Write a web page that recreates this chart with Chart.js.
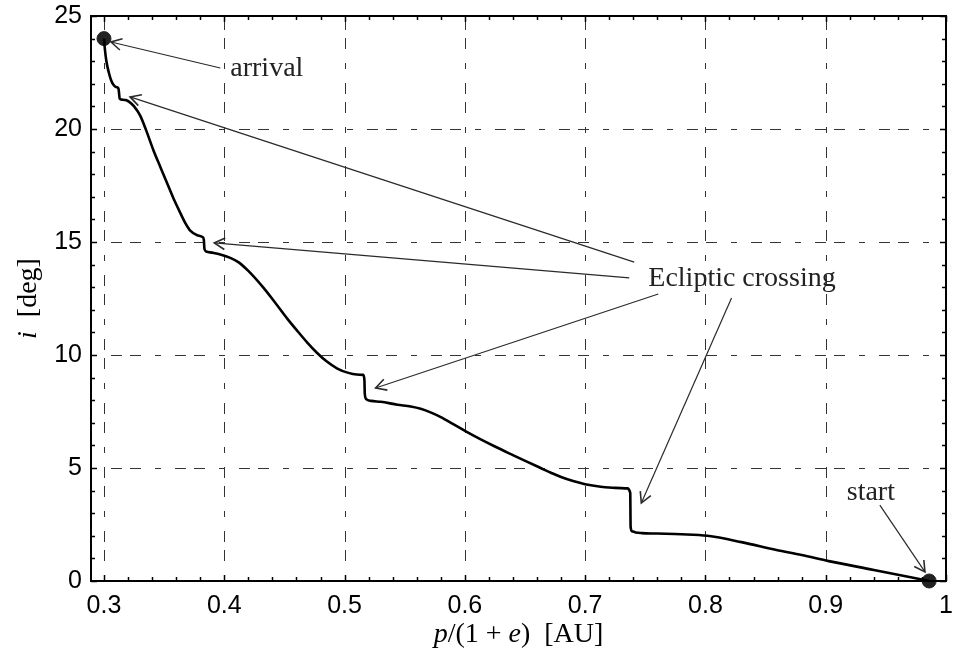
<!DOCTYPE html>
<html>
<head>
<meta charset="utf-8">
<script src="https://cdn.jsdelivr.net/npm/chart.js@4.4.1/dist/chart.umd.min.js"></script>
<style>
  html, body { margin: 0; padding: 0; background: #fff; }
  #wrap { width: 954px; height: 663px; }
</style>
</head>
<body>
<div id="wrap"><canvas id="chart"></canvas></div>
<script>
// semi-latus rectum over (1+e), AU
const pValues = [0.3, 0.3008, 0.302, 0.304, 0.306, 0.308, 0.3105, 0.312, 0.3125, 0.313, 0.315, 0.318, 0.321, 0.325,
  0.33, 0.335, 0.341, 0.347, 0.3525, 0.358, 0.3633, 0.368, 0.3717, 0.3775, 0.382, 0.383, 0.3835, 0.385, 0.39, 0.3967,
  0.405, 0.412, 0.42, 0.4325, 0.4425, 0.4525, 0.461, 0.469, 0.477, 0.485, 0.494, 0.5025, 0.51, 0.5155, 0.5165, 0.5168,
  0.518, 0.522, 0.53, 0.544, 0.555, 0.5633, 0.572, 0.58, 0.59, 0.6008, 0.612, 0.625, 0.6408, 0.652, 0.663, 0.672,
  0.68, 0.69, 0.70, 0.713, 0.725, 0.735,
  0.7375, 0.7378, 0.739, 0.742, 0.747, 0.76, 0.78, 0.8017, 0.83, 0.859, 0.88, 0.9025, 0.94, 0.986];
// inclination, deg
const iValues = [24.0, 23.5, 23.0, 22.5, 22.15, 21.95, 21.85, 21.8, 21.6, 21.35, 21.3, 21.28, 21.2, 21.0,
  20.6, 19.95, 19.07, 18.3, 17.6, 16.9, 16.3, 15.8, 15.5, 15.3, 15.22, 15.1, 14.7, 14.58, 14.53, 14.45,
  14.3, 14.1, 13.72, 12.98, 12.3, 11.6, 11.05, 10.55, 10.1, 9.72, 9.4, 9.22, 9.14, 9.12, 8.9, 8.3,
  8.05, 7.97, 7.93, 7.8, 7.72, 7.62, 7.45, 7.25, 6.95, 6.62, 6.3, 5.95, 5.55, 5.27, 5.0, 4.78,
  4.6, 4.42, 4.28, 4.17, 4.12, 4.1,
  3.9, 2.4, 2.2, 2.15, 2.12, 2.1, 2.07, 2.0, 1.72, 1.37, 1.15, 0.88, 0.49, 0.0];

// arrival / start points
const markerP = [0.3, 0.986];
const markerI = [24.0, 0.0];

const xTicks = [0.3, 0.4, 0.5, 0.6, 0.7, 0.8, 0.9, 1.0];
const yTicks = [0, 5, 10, 15, 20, 25];
const xRange = [0.2892, 1.0];
const yRange = [0, 25];

// annotations (data coords)
const noteText = ['arrival', 'Ecliptic crossing', 'start'];
const noteAt = [[0.405, 22.35], [0.7525, 13.05], [0.9175, 3.58]];
const arrowFrom = [[0.3967, 22.70], [0.7408, 14.11], [0.7367, 13.41], [0.7608, 12.70], [0.8217, 12.52], [0.945, 3.36]];
const arrowTo = [[0.3058, 23.85], [0.3217, 21.42], [0.3917, 14.96], [0.5258, 8.54], [0.7467, 3.45], [0.9825, 0.40]];

const serif = '"Liberation Serif", "DejaVu Serif", serif';

function seg(ctx, x1, y1, x2, y2) {
  ctx.beginPath();
  ctx.moveTo(x1, y1);
  ctx.lineTo(x2, y2);
  ctx.stroke();
}

// draw text made of italic / upright pieces, centered at cx
function mixedText(ctx, parts, cx, baseY, size) {
  let total = 0;
  parts.forEach(p => {
    ctx.font = (p[1] ? 'italic ' : '') + size + 'px ' + serif;
    total += ctx.measureText(p[0]).width;
  });
  let x = cx - total / 2;
  parts.forEach(p => {
    ctx.font = (p[1] ? 'italic ' : '') + size + 'px ' + serif;
    ctx.fillText(p[0], x, baseY);
    x += ctx.measureText(p[0]).width;
  });
}

const framePlugin = {
  id: 'frame',
  beforeDatasetsDraw(chart) {
    const { ctx, chartArea: a, scales: { x, y } } = chart;
    ctx.save();
    ctx.strokeStyle = '#333';
    ctx.lineWidth = 1;
    ctx.setLineDash([6, 14, 11, 8, 11, 14]);
    xTicks.forEach(v => {
      if (v <= x.min || v >= x.max) return;
      const px = Math.round(x.getPixelForValue(v)) + 0.5;
      seg(ctx, px, a.bottom, px, a.top);
    });
    yTicks.forEach(v => {
      if (v <= y.min || v >= y.max) return;
      const py = Math.round(y.getPixelForValue(v)) + 0.5;
      seg(ctx, a.left, py, a.right, py);
    });
    ctx.restore();
  },
  afterDatasetsDraw(chart) {
    const { ctx, chartArea: a, scales: { x, y } } = chart;
    ctx.save();
    ctx.strokeStyle = '#000';
    ctx.lineWidth = 1.5;
    // minor + major ticks, inward, on all four sides
    for (let k = 0; k <= 35; k++) {
      const v = 0.3 + k * 0.02;
      if (v > x.max + 1e-9) break;
      const px = Math.round(x.getPixelForValue(v)) + 0.5;
      const len = (k % 5 === 0) ? 6 : 4;
      seg(ctx, px, a.bottom, px, a.bottom - len);
      seg(ctx, px, a.top, px, a.top + len);
    }
    for (let v = 0; v <= 25; v++) {
      const py = Math.round(y.getPixelForValue(v)) + 0.5;
      const len = (v % 5 === 0) ? 6 : 4;
      seg(ctx, a.left, py, a.left + len, py);
      seg(ctx, a.right, py, a.right - len, py);
    }
    ctx.lineWidth = 2;
    ctx.strokeRect(a.left, a.top, a.right - a.left, a.bottom - a.top);

    // annotation arrows
    ctx.strokeStyle = '#2a2a2a';
    arrowFrom.forEach((f, k) => {
      const x1 = x.getPixelForValue(f[0]), y1 = y.getPixelForValue(f[1]);
      const x2 = x.getPixelForValue(arrowTo[k][0]), y2 = y.getPixelForValue(arrowTo[k][1]);
      ctx.lineWidth = 1.2;
      seg(ctx, x1, y1, x2, y2);
      const ang = Math.atan2(y1 - y2, x1 - x2);
      const L = 12, w = 0.5;
      ctx.beginPath();
      ctx.moveTo(x2 + L * Math.cos(ang + w), y2 + L * Math.sin(ang + w));
      ctx.lineTo(x2, y2);
      ctx.lineTo(x2 + L * Math.cos(ang - w), y2 + L * Math.sin(ang - w));
      ctx.lineWidth = 1.6;
      ctx.stroke();
    });
    ctx.fillStyle = '#222';
    ctx.font = '28px ' + serif;
    ctx.textBaseline = 'alphabetic';
    ctx.textAlign = 'left';
    noteText.forEach((t, k) => {
      ctx.fillText(t, x.getPixelForValue(noteAt[k][0]), y.getPixelForValue(noteAt[k][1]));
    });
    ctx.restore();
  },
  afterDraw(chart) {
    const { ctx, chartArea: a } = chart;
    ctx.save();
    ctx.fillStyle = '#000';
    ctx.textBaseline = 'alphabetic';
    ctx.textAlign = 'left';
    mixedText(ctx, [['p', true], ['/(1 + ', false], ['e', true], [')  [AU]', false]], (a.left + a.right) / 2, 642, 28);
    ctx.translate(36, (a.top + a.bottom) / 2);
    ctx.rotate(-Math.PI / 2);
    mixedText(ctx, [['i', true], ['  [deg]', false]], 0, 0, 28);
    ctx.restore();
  }
};

new Chart(document.getElementById('chart'), {
  type: 'scatter',
  data: {
    datasets: [
      {
        data: pValues.map((p, k) => ({ x: p, y: iValues[k] })),
        showLine: true,
        borderColor: '#000',
        borderWidth: 2.6,
        pointRadius: 0,
        cubicInterpolationMode: 'monotone',
        clip: false
      },
      {
        data: markerP.map((p, k) => ({ x: p, y: markerI[k] })),
        showLine: false,
        pointRadius: 7,
        pointBackgroundColor: '#222',
        pointBorderColor: '#222',
        clip: false
      }
    ]
  },
  options: {
    responsive: true,
    maintainAspectRatio: false,
    animation: false,
    layout: { padding: { top: 16, right: 7, left: 0, bottom: 0 } },
    plugins: { legend: { display: false }, tooltip: { enabled: false } },
    scales: {
      x: {
        type: 'linear',
        min: xRange[0],
        max: xRange[1],
        afterBuildTicks: s => { s.ticks = xTicks.map(v => ({ value: v })); },
        afterFit: s => { s.height = 82; s.paddingLeft = 0; s.paddingRight = 0; },
        grid: { display: false, drawTicks: false },
        border: { display: false },
        ticks: {
          color: '#000',
          padding: 10,
          font: { family: '"Liberation Sans", Arial, sans-serif', size: 25 },
          callback: v => String(+v.toFixed(1))
        }
      },
      y: {
        type: 'linear',
        min: yRange[0],
        max: yRange[1],
        afterBuildTicks: s => { s.ticks = yTicks.map(v => ({ value: v })); },
        afterFit: s => { s.width = 91; s.paddingTop = 0; s.paddingBottom = 0; },
        grid: { display: false, drawTicks: false },
        border: { display: false },
        ticks: {
          color: '#000',
          padding: 9,
          font: { family: '"Liberation Sans", Arial, sans-serif', size: 25 },
          callback: v => String(v)
        }
      }
    }
  },
  plugins: [framePlugin]
});
</script>
</body>
</html>
